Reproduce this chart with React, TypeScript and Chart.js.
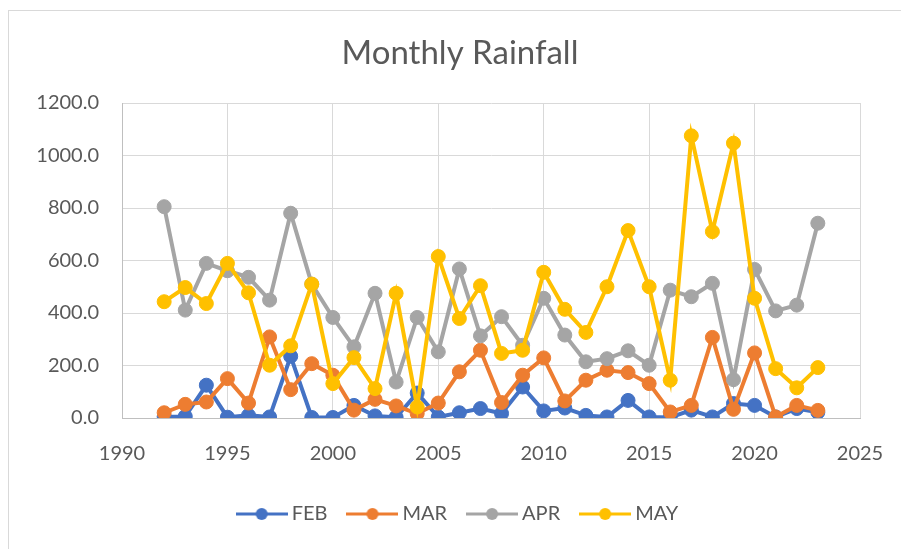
import React, { useEffect, useRef } from "react";
import { Chart, registerables } from "chart.js";

Chart.register(...registerables);

const years = [
  1992, 1993, 1994, 1995, 1996, 1997, 1998, 1999, 2000, 2001, 2002, 2003, 2004, 2005, 2006, 2007,
  2008, 2009, 2010, 2011, 2012, 2013, 2014, 2015, 2016, 2017, 2018, 2019, 2020, 2021, 2022, 2023,
];
const feb = [
  5, 6, 125, 3, 10, 4, 235, 2, 2, 48, 8, 3, 95, 4, 20, 36,
  17, 118, 27, 38, 10, 4, 67, 4, 2, 30, 4, 55, 48, 4, 36, 22,
];
const mar = [
  20, 52, 61, 150, 57, 309, 108, 207, 163, 30, 71, 46, 17, 57, 176, 258,
  59, 163, 229, 65, 144, 182, 173, 131, 23, 48, 307, 33, 248, 4, 48, 29,
];
const apr = [
  805, 411, 589, 561, 536, 449, 780, 510, 383, 271, 475, 137, 383, 252, 568, 313,
  386, 277, 456, 316, 214, 226, 256, 201, 487, 462, 513, 146, 566, 408, 430, 742,
];
const may = [
  443, 497, 436, 589, 477, 201, 275, 510, 131, 230, 112, 475, 42, 615, 379, 504,
  246, 258, 555, 414, 326, 500, 714, 500, 144, 1075, 710, 1047, 456, 188, 115, 192,
];
const seriesNames = ["FEB", "MAR", "APR", "MAY"];
const seriesValues = [feb, mar, apr, may];
const seriesColors = ["#4472C4", "#ED7D31", "#A5A5A5", "#FFC000"];
const chartTitle = "Monthly Rainfall";
const xMin = 1990;
const xMax = 2025;
const xStep = 5;
const yMin = 0;
const yMax = 1200;
const yStep = 200;

const FONT = "Lato";
const TEXT = "#595959";

function legendIcon(color: string) {
  const c = document.createElement("canvas");
  c.width = 52;
  c.height = 14;
  const ctx = c.getContext("2d")!;
  ctx.strokeStyle = color;
  ctx.lineWidth = 3;
  ctx.beginPath();
  ctx.moveTo(0, 7);
  ctx.lineTo(52, 7);
  ctx.stroke();
  ctx.fillStyle = color;
  ctx.beginPath();
  ctx.arc(26, 7, 6, 0, Math.PI * 2);
  ctx.fill();
  return c;
}

export default function App() {
  const ref = useRef<HTMLCanvasElement | null>(null);

  useEffect(() => {
    if (!ref.current) return;
    const icons = seriesColors.map(legendIcon);
    const chart = new Chart(ref.current, {
      type: "line",
      data: {
        datasets: seriesNames.map((name, i) => ({
          label: name,
          data: years.map((y, j) => ({ x: y, y: seriesValues[i][j] })),
          borderColor: seriesColors[i],
          backgroundColor: seriesColors[i],
          pointBackgroundColor: seriesColors[i],
          pointBorderColor: seriesColors[i],
          borderWidth: 4,
          pointRadius: 7,
          pointBorderWidth: 1,
          pointHoverRadius: 7,
          tension: 0,
          fill: false,
          order: seriesNames.length - i,
          xAxisID: "x",
          yAxisID: "y",
        })),
      },
      options: {
        responsive: false,
        animation: false,
        devicePixelRatio: 1,
        layout: { padding: 0 },
        plugins: {
          title: {
            display: true,
            text: chartTitle,
            color: TEXT,
            font: { family: FONT, size: 33, weight: "normal" },
            padding: { top: 23, bottom: 29.4 },
          },
          legend: {
            position: "bottom",
            labels: {
              usePointStyle: true,
              pointStyleWidth: 40,
              padding: 25,
              color: TEXT,
              font: { family: FONT, size: 20 },
              sort: (a: any, b: any) => a.datasetIndex - b.datasetIndex,
              generateLabels: (ch: any) => {
                const items = Chart.defaults.plugins.legend.labels.generateLabels(ch);
                return items.map((it: any) => ({ ...it, pointStyle: icons[it.datasetIndex] }));
              },
            },
          },
          tooltip: { enabled: false },
        },
        scales: {
          x: {
            type: "linear",
            min: xMin,
            max: xMax,
            ticks: {
              stepSize: xStep,
              color: TEXT,
              padding: 24,
              font: { family: FONT, size: 20 },
              callback: (v: any) => String(v),
            },
            grid: { color: "#D9D9D9", lineWidth: 1, drawTicks: false },
            border: { color: "#BFBFBF", width: 1 },
            afterFit: (s: any) => {
              s.height = 61;
            },
          },
          y: {
            min: yMin,
            max: yMax,
            ticks: {
              stepSize: yStep,
              color: TEXT,
              padding: 23,
              font: { family: FONT, size: 20 },
              callback: (v: any) => Number(v).toFixed(1),
            },
            grid: { color: "#D9D9D9", lineWidth: 1, drawTicks: false },
            border: { color: "#BFBFBF", width: 1 },
            afterFit: (s: any) => {
              s.width = 113;
            },
          },
          yR: {
            position: "right",
            min: yMin,
            max: yMax,
            ticks: { display: false },
            grid: { display: false, drawTicks: false },
            border: { display: false },
            afterFit: (s: any) => {
              s.width = 51;
            },
          },
        },
      },
    });
    return () => chart.destroy();
  }, []);

  return (
    <div style={{ position: "fixed", left: 0, top: 0, width: 901, height: 549, overflow: "hidden", background: "#fff" }}>
      <div
        style={{
          position: "absolute",
          left: 8,
          top: 10,
          border: "1px solid #D9D9D9",
          width: 902,
          height: 580,
          background: "#fff",
        }}
      >
        <canvas ref={ref} width={902} height={523} style={{ display: "block", width: 902, height: 523 }} />
      </div>
    </div>
  );
}
